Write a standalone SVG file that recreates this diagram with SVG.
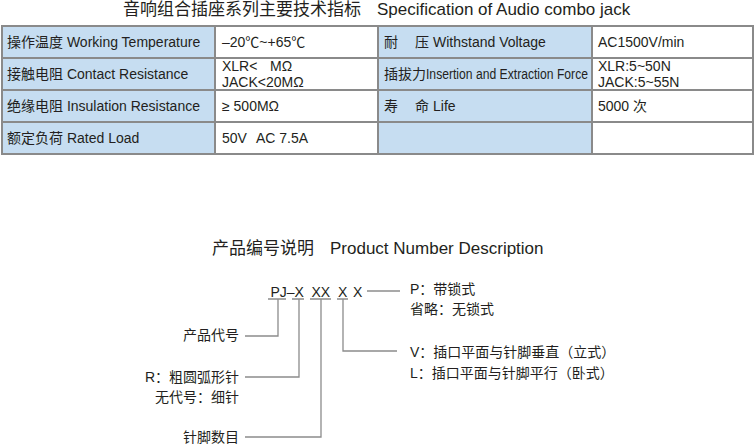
<svg xmlns="http://www.w3.org/2000/svg" width="755" height="446" viewBox="0 0 755 446">
<style>
text{font-family:"Liberation Sans","Noto Sans CJK SC",sans-serif;fill:#231f20;font-size:14px}
.t{font-size:17px}
.hd{fill:#c6ddf1}
.cell{fill:#ffffff}
.grid{stroke:#8a8a8a;stroke-width:2;fill:none}
.ln{stroke:#8c8c8c;stroke-width:1.3;fill:none}
</style>
<rect width="755" height="446" fill="#ffffff"/>
<g id="table-title">
<text class="t" x="123" y="15">音响组合插座系列主要技术指标</text>
<text class="t" x="377" y="15">Specification of Audio combo jack</text>
</g>
<g id="table">
<rect class="hd" x="2" y="26" width="213" height="128"/>
<rect class="cell" x="215" y="26" width="163" height="128"/>
<rect class="hd" x="378" y="26" width="214" height="128"/>
<rect class="cell" x="592" y="26" width="161" height="128"/>
<path class="grid" d="M2,26H753V154H2Z M2,58H753 M2,90H753 M2,122H753 M215,26V154 M378,26V154 M592,26V154"/>
</g>
<g id="row1">
<text x="7" y="47">操作温度 Working Temperature</text>
<text x="222" y="47">–20℃~+65℃</text>
<text x="384" y="47">耐</text>
<text x="415" y="47">压</text>
<text x="433" y="47">Withstand Voltage</text>
<text x="598" y="47">AC1500V/min</text>
</g>
<g id="row2">
<text x="7" y="79">接触电阻 Contact Resistance</text>
<text x="222" y="70.5">XLR&lt;</text>
<text x="270" y="70.5">MΩ</text>
<text x="222" y="87">JACK&lt;20MΩ</text>
<text x="384" y="79">插拔力</text>
<text x="426" y="79" textLength="162" lengthAdjust="spacingAndGlyphs">Insertion and Extraction Force</text>
<text x="598" y="70.5">XLR:5~50N</text>
<text x="598" y="87">JACK:5~55N</text>
</g>
<g id="row3">
<text x="7" y="111">绝缘电阻 Insulation Resistance</text>
<text x="222" y="111">≥ 500MΩ</text>
<text x="384" y="111">寿</text>
<text x="415" y="111">命</text>
<text x="433" y="111">Life</text>
<text x="598" y="111">5000 次</text>
</g>
<g id="row4">
<text x="7" y="143">额定负荷 Rated Load</text>
<text x="222" y="143">50V</text>
<text x="256" y="143">AC 7.5A</text>
</g>
<g id="pn-title">
<text class="t" x="212" y="254">产品编号说明</text>
<text class="t" x="330" y="254">Product Number Description</text>
</g>
<g id="code">
<text x="270.5" y="297">PJ–X</text>
<text x="311.5" y="297">XX</text>
<text x="338" y="297">X</text>
<text x="353" y="297">X</text>
</g>
<g id="connectors">
<path class="ln" d="M268,299H286 M292,299H304 M310,299H331 M337,299H348"/>
<path class="ln" d="M278,299V336H245"/>
<path class="ln" d="M299,299V377H245"/>
<path class="ln" d="M321,299V437H245"/>
<path class="ln" d="M343,299V351H397"/>
<path class="ln" d="M367,291H400"/>
</g>
<g id="lock">
<text x="410" y="294">P：带锁式</text>
<text x="410" y="314">省略：无锁式</text>
</g>
<g id="mount">
<text x="410" y="357">V：插口平面与针脚垂直（立式）</text>
<text x="410" y="378">L：插口平面与针脚平行（卧式）</text>
</g>
<g id="product-code">
<text x="239" y="340" text-anchor="end">产品代号</text>
</g>
<g id="pin-type">
<text x="239" y="382" text-anchor="end">R：粗圆弧形针</text>
<text x="239" y="402" text-anchor="end">无代号：细针</text>
</g>
<g id="pin-count">
<text x="239" y="442" text-anchor="end">针脚数目</text>
</g>
</svg>
